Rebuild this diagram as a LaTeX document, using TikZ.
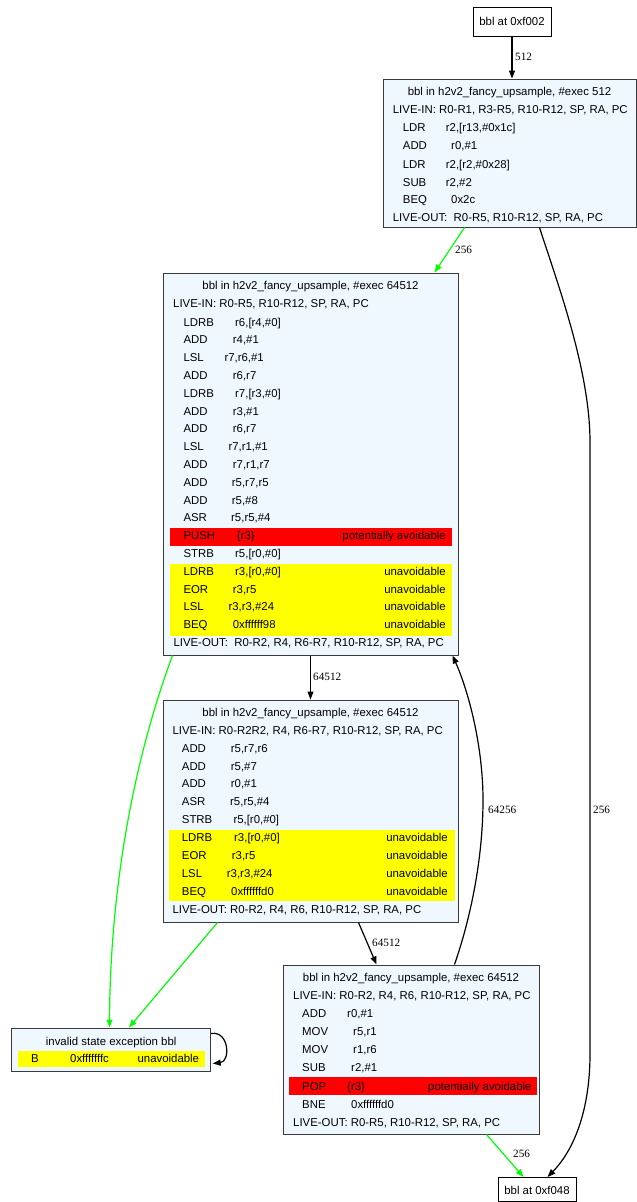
\documentclass[tikz,border=0pt]{standalone}
\usepackage{fontspec}
\setmainfont{Liberation Sans}
\newfontfamily\labfont{Liberation Serif}
\usetikzlibrary{arrows.meta,calc}
\definecolor{boxfill}{HTML}{F0F8FF}
\definecolor{boxline}{HTML}{3A3A3A}
\definecolor{gedge}{HTML}{00FF00}
\definecolor{rband}{HTML}{FF0000}
\definecolor{yband}{HTML}{FFFF00}
% name, mnemonic x, operand x, row y, mnemonic, operand
\newcommand\insline[6]{%
  \node[txt] (#1m) at (#2,{#4+4}) {#5};
  \node[txt] (#1o) at (#3,{#4+4}) {#6};}
\newcommand\rtext[4]{\node[txt,anchor=base east] (#1) at (#2,{#3+4}) {#4};}
\newcommand\ltext[4]{\node[txt] (#1) at (#2,{#3+4}) {#4};}
\newcommand\ctext[4]{\node[txt,anchor=base] (#1) at (#2,{#3+4}) {#4};}
\begin{document}
\begin{tikzpicture}[x=1pt,y=-1pt,
  box/.style={draw=boxline,fill=boxfill,line width=1pt,inner sep=0pt},
  plainbox/.style={draw=black,fill=white,line width=1pt,inner sep=0pt},
  txt/.style={anchor=base west,inner sep=0pt,font=\fontsize{11.4}{13.6}\selectfont},
  lab/.style={anchor=west,inner sep=0pt,font=\labfont\fontsize{11.2}{13}\selectfont},
  edge/.style={line width=1.2pt,draw=black,-{Triangle[length=8pt,width=6pt]}},
  gedgest/.style={edge,draw=gedge,-{Triangle[length=8pt,width=6pt,fill=gedge]}},
]
\useasboundingbox (0,0) rectangle (637,1202);
\fill[white] (0,0) rectangle (637,1202);

% ---- boxes ----
\node[plainbox,minimum width=78pt,minimum height=29pt] (n0) at (512,21.5) {};
\node[box,minimum width=253pt,minimum height=148pt] (b1) at (509.5,153) {};
\node[box,minimum width=295pt,minimum height=382pt] (b2) at (310.5,464) {};
\node[box,minimum width=295pt,minimum height=222pt] (b3) at (310.5,811) {};
\node[box,minimum width=256pt,minimum height=169pt] (b4) at (411,1049.5) {};
\node[box,minimum width=199pt,minimum height=43pt] (inv) at (111.2,1049.5) {};
\node[plainbox,minimum width=78pt,minimum height=24pt] (n5) at (537,1189.5) {};

% ---- bands ----
\fill[rband] (170,528) rectangle (452,546);
\fill[yband] (170,564) rectangle (452,636);
\fill[yband] (169,830) rectangle (455,901);
\fill[rband] (289,1077) rectangle (537,1095);
\fill[yband] (18,1051) rectangle (205,1067);

% ---- top / bottom nodes ----
\ctext{n0t}{512}{21}{bbl at 0xf002}
\ctext{n5t}{537}{1190}{bbl at 0xf048}

% ---- box 1 ----
\ctext{b1t}{509.5}{91}{bbl in h2v2\_fancy\_upsample, \#exec 512}
\ltext{b1i}{392.7}{109}{LIVE-IN: R0-R1, R3-R5, R10-R12, SP, RA, PC}
\insline{b1a}{402.7}{445.7}{127}{LDR}{r2,[r13,\#0x1c]}
\insline{b1b}{402.7}{451}{145.5}{ADD}{r0,\#1}
\insline{b1c}{402.7}{445.7}{164}{LDR}{r2,[r2,\#0x28]}
\insline{b1d}{402.7}{445.7}{182}{SUB}{r2,\#2}
\insline{b1e}{402.7}{451}{199.5}{BEQ}{0x2c}
\ltext{b1o}{392.7}{217}{LIVE-OUT:\ \ R0-R5, R10-R12, SP, RA, PC}

% ---- box 2 ----
\ctext{b2t}{310.5}{285}{bbl in h2v2\_fancy\_upsample, \#exec 64512}
\ltext{b2i}{173}{303}{LIVE-IN: R0-R5, R10-R12, SP, RA, PC}
\insline{b2a}{183.3}{235}{322}{LDRB}{r6,[r4,\#0]}
\insline{b2b}{183.3}{232.7}{339.8}{ADD}{r4,\#1}
\insline{b2c}{183.3}{224.3}{357.6}{LSL}{r7,r6,\#1}
\insline{b2d}{183.3}{232.7}{375.4}{ADD}{r6,r7}
\insline{b2e}{183.3}{235}{393.2}{LDRB}{r7,[r3,\#0]}
\insline{b2f}{183.3}{232.7}{411}{ADD}{r3,\#1}
\insline{b2g}{183.3}{232.7}{428.8}{ADD}{r6,r7}
\insline{b2h}{183.3}{228.3}{446.6}{LSL}{r7,r1,\#1}
\insline{b2i2}{183.3}{232.7}{464.4}{ADD}{r7,r1,r7}
\insline{b2j}{183.3}{231.7}{482.2}{ADD}{r5,r7,r5}
\insline{b2k}{183.3}{231.7}{500}{ADD}{r5,\#8}
\insline{b2l}{183.3}{231}{517.8}{ASR}{r5,r5,\#4}
\insline{b2m}{183.3}{236.7}{535.6}{PUSH}{\{r3\}}
\rtext{b2mr}{446}{535.6}{potentially avoidable}
\insline{b2n}{183.3}{235}{553.4}{STRB}{r5,[r0,\#0]}
\insline{b2p}{183.3}{235}{571.2}{LDRB}{r3,[r0,\#0]}
\rtext{b2pr}{446}{571.2}{unavoidable}
\insline{b2q}{183.3}{232.7}{589}{EOR}{r3,r5}
\rtext{b2qr}{446}{589}{unavoidable}
\insline{b2r}{183.3}{228.3}{606.8}{LSL}{r3,r3,\#24}
\rtext{b2rr}{446}{606.8}{unavoidable}
\insline{b2s}{183.3}{232.7}{624.6}{BEQ}{0xffffff98}
\rtext{b2sr}{446}{624.6}{unavoidable}
\ltext{b2o}{173.3}{642.4}{LIVE-OUT:\ \ R0-R2, R4, R6-R7, R10-R12, SP, RA, PC}

% ---- box 3 ----
\ctext{b3t}{310.5}{712}{bbl in h2v2\_fancy\_upsample, \#exec 64512}
\ltext{b3i}{172.3}{730}{LIVE-IN: R0-R2R2, R4, R6-R7, R10-R12, SP, RA, PC}
\insline{b3a}{181.7}{230.7}{748}{ADD}{r5,r7,r6}
\insline{b3b}{181.7}{230.7}{766}{ADD}{r5,\#7}
\insline{b3c}{181.7}{230.7}{783.5}{ADD}{r0,\#1}
\insline{b3d}{181.7}{230}{801}{ASR}{r5,r5,\#4}
\insline{b3e}{181.7}{233.3}{819}{STRB}{r5,[r0,\#0]}
\insline{b3f}{181.7}{234}{837}{LDRB}{r3,[r0,\#0]}
\rtext{b3fr}{448}{837}{unavoidable}
\insline{b3g}{181.7}{231.7}{855}{EOR}{r3,r5}
\rtext{b3gr}{448}{855}{unavoidable}
\insline{b3h}{181.7}{226.7}{873}{LSL}{r3,r3,\#24}
\rtext{b3hr}{448}{873}{unavoidable}
\insline{b3k}{181.7}{231}{891.5}{BEQ}{0xffffffd0}
\rtext{b3kr}{448}{891.5}{unavoidable}
\ltext{b3o}{172.3}{909}{LIVE-OUT: R0-R2, R4, R6, R10-R12, SP, RA, PC}

% ---- box 4 ----
\ctext{b4t}{411}{977}{bbl in h2v2\_fancy\_upsample, \#exec 64512}
\ltext{b4i}{293}{995}{LIVE-IN: R0-R2, R4, R6, R10-R12, SP, RA, PC}
\insline{b4a}{302}{347}{1013}{ADD}{r0,\#1}
\insline{b4b}{302}{353}{1031}{MOV}{r5,r1}
\insline{b4c}{302}{353}{1049}{MOV}{r1,r6}
\insline{b4d}{302}{351}{1067}{SUB}{r2,\#1}
\insline{b4e}{302}{347}{1086}{POP}{\{r3\}}
\rtext{b4er}{531.7}{1086}{potentially avoidable}
\insline{b4f}{302}{351}{1104}{BNE}{0xffffffd0}
\ltext{b4o}{293}{1122}{LIVE-OUT: R0-R5, R10-R12, SP, RA, PC}

% ---- invalid box ----
\ctext{invt}{111.2}{1041}{invalid state exception bbl}
\insline{inva}{31}{70}{1058}{B}{0xfffffffc}
\rtext{invr}{199.3}{1058}{unavoidable}

% ---- edges ----
\draw[edge] (n0.south) -- (n0.south |- b1.north);
\node[lab] (l1) at (515,57) {512};

\draw[gedgest] ($(b1.south west)+(82,0)$) -- ($(b2.north west)+(272,0)$);
\node[lab] (l2) at (455,250) {256};

\draw[edge] ($(b1.south west)+(157,0)$) .. controls (557,282) and (590,370) .. (590,442)
  -- (590,1054) .. controls (590,1110) and (574,1150) .. ($(n5.north west)+(50,0)$);
\node[lab] (l3) at (593,810) {256};

\draw[edge] (b2.south) -- (b2.south |- b3.north);
\node[lab] (l4) at (313,677) {64512};

\draw[gedgest] ($(b2.south west)+(10,0)$) .. controls (130,770) and (110,900) .. ($(inv.north west)+(98.3,0)$);

\draw[gedgest] ($(b3.south west)+(55,0)$) -- ($(inv.north west)+(117.8,0)$);

\draw[edge] ($(b3.south west)+(196,0)$) -- ($(b4.north west)+(94,0)$);
\node[lab] (l5) at (372,943) {64512};

\draw[edge] ($(b4.north west)+(172,0)$) .. controls (470,920) and (483,860) .. (483,800)
  .. controls (483,745) and (468,690) .. ($(b2.south west)+(290,0)$);
\node[lab] (l6) at (488,810) {64256};

\draw[gedgest] ($(b4.south west)+(204,0)$) -- ($(n5.north west)+(26,0)$);
\node[lab] (l7) at (513,1154) {256};

\draw[edge] ($(inv.north east)+(0,6)$) .. controls +(18,-3) and +(18,-2) .. ($(inv.south east)+(1.5,-8)$);
\end{tikzpicture}
\end{document}
